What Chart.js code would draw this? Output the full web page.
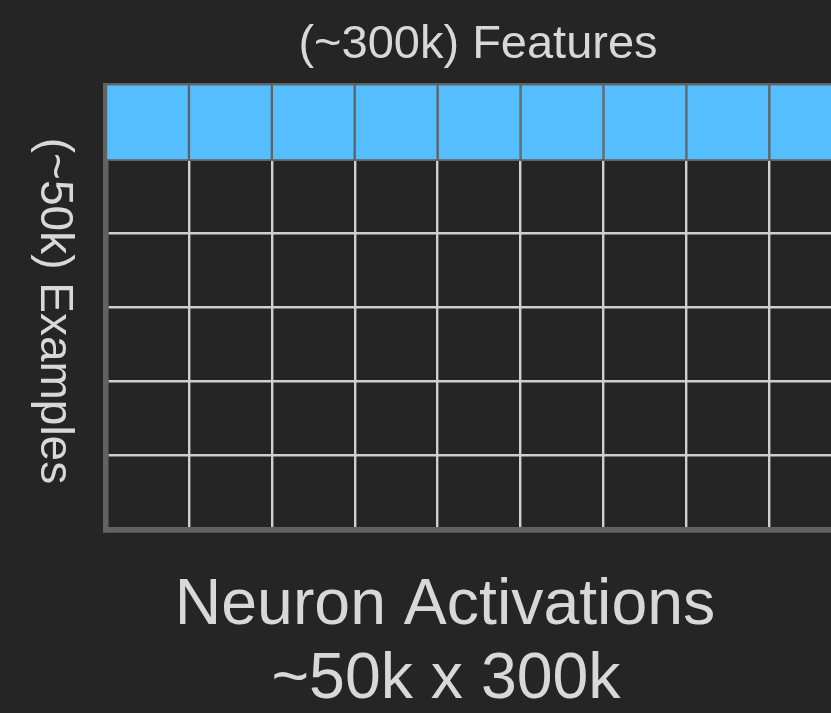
<!DOCTYPE html>
<html>
<head>
<meta charset="utf-8">
<script src="https://cdn.jsdelivr.net/npm/chart.js@4.4.1/dist/chart.umd.min.js"></script>
<style>
  html, body { margin: 0; padding: 0; background: #252525; overflow: hidden; }
  #wrap { position: relative; width: 831px; height: 713px; }
</style>
</head>
<body>
<div id="wrap"><canvas id="grid-chart"></canvas></div>
<script>
// Matrix layout: one column per feature cell, one row per example
const columnCenters = [0.5, 1.5, 2.5, 3.5, 4.5, 5.5, 6.5, 7.5, 8.5, 9.5];
const highlightRow = [5, 6];          // top row (one example) filled in blue
const rowCount = 6;
const visibleColumns = 8.744;         // the right edge cuts into the 9th cell

const topLabel = '(~300k) Features';
const sideLabel = '(~50k) Examples';
const bottomLabel = ['Neuron Activations', '~50k x 300k'];

// Colours
const bgColor = '#252525';
const blue = '#55befe';
const edgeGray = '#626262';
const lineLight = '#cfcfcf';
const textColor = '#d8d8d8';
const fontFamily = "'Liberation Sans', Arial, Helvetica, sans-serif";

// Draws the text labels around the grid
const labelPlugin = {
  id: 'matrixLabels',
  afterDraw(chart) {
    const ctx = chart.ctx;
    ctx.save();
    ctx.fillStyle = textColor;
    ctx.textAlign = 'center';
    ctx.textBaseline = 'alphabetic';

    ctx.font = `47px ${fontFamily}`;
    ctx.fillText(topLabel, 478, 58);

    // vertical label reads top to bottom
    ctx.save();
    ctx.font = `46px ${fontFamily}`;
    ctx.translate(41, 311);
    ctx.rotate(Math.PI / 2);
    ctx.fillText(sideLabel, 0, 0);
    ctx.restore();

    ctx.font = `64.4px ${fontFamily}`;
    ctx.fillText(bottomLabel[0], 445, 624);
    ctx.fillText(bottomLabel[1], 446, 698);
    ctx.restore();
  }
};

const bgPlugin = {
  id: 'bg',
  beforeDraw(chart) {
    const ctx = chart.ctx;
    ctx.save();
    ctx.fillStyle = bgColor;
    ctx.fillRect(0, 0, chart.width, chart.height);
    ctx.restore();
  }
};

const ctx = document.getElementById('grid-chart').getContext('2d');

new Chart(ctx, {
  type: 'bar',
  data: {
    datasets: [{
      label: 'Example',
      data: columnCenters.map(c => ({ x: c, y: highlightRow })),
      backgroundColor: blue,
      borderColor: edgeGray,
      borderWidth: { left: 1.5, right: 1.5, top: 0, bottom: 0 },
      borderSkipped: false,
      barPercentage: 1,
      categoryPercentage: 1,
      clip: 0
    }]
  },
  options: {
    responsive: true,
    maintainAspectRatio: false,
    animation: false,
    layout: {
      padding: { left: 106, top: 85.3, right: 0, bottom: 183.5 }
    },
    plugins: {
      legend: { display: false },
      tooltip: { enabled: false },
      title: { display: false }
    },
    scales: {
      x: {
        type: 'linear',
        min: 0,
        max: visibleColumns,
        offset: false,
        z: 0,
        ticks: { display: false, stepSize: 1, includeBounds: false },
        grid: {
          offset: false,
          drawTicks: false,
          color: lineLight,
          lineWidth: 2.4
        },
        border: { display: true, color: edgeGray, width: 5.5 }
      },
      y: {
        min: 0,
        max: rowCount,
        z: 1,
        ticks: { display: false, stepSize: 1 },
        grid: {
          drawTicks: false,
          color: c => (c.tick.value === 0 || c.tick.value >= 5 ? edgeGray : lineLight),
          lineWidth: c => {
            const v = c.tick.value;
            if (v === 0 || v === 6) return 5.5;
            if (v === 5) return 3;
            return 2.4;
          }
        },
        border: { display: true, color: edgeGray, width: 5.5 }
      }
    }
  },
  plugins: [bgPlugin, labelPlugin]
});
</script>
</body>
</html>
